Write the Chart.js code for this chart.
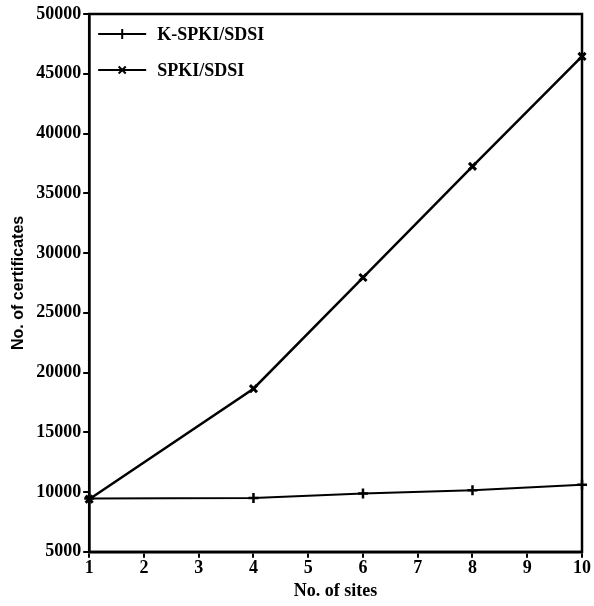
<!DOCTYPE html>
<html>
<head>
<meta charset="utf-8">
<script src="https://cdn.jsdelivr.net/npm/chart.js@4"></script>
<style>
  html, body { margin: 0; padding: 0; background: #fff; }
  #wrap { width: 594px; height: 606px; }
</style>
</head>
<body>
<div id="wrap"><canvas id="chart" width="594" height="606"></canvas></div>
<script>
const sites = [1, 4, 6, 8, 10];
const kSpki = [9450, 9500, 9870, 10150, 10620];
const spki = [9400, 18650, 27950, 37250, 46450];
const seriesNames = ['K-SPKI/SDSI', 'SPKI/SDSI'];
const serif = '"Liberation Serif", "Times New Roman", serif';
const sans = '"Liberation Sans", Arial, sans-serif';

// caixa em volta da area e legenda dentro do grafico
const boxAndLegend = {
    id: 'boxAndLegend',
    afterDraw(chart) {
        const ctx = chart.ctx;
        const a = chart.chartArea;
        ctx.save();
        ctx.strokeStyle = '#000';
        ctx.lineWidth = 2.5;
        ctx.strokeRect(a.left, a.top, a.right - a.left, a.bottom - a.top);

        const styles = ['cross', 'crossRot'];
        ctx.font = 'bold 18px ' + serif;
        ctx.textBaseline = 'middle';
        ctx.fillStyle = '#000';
        for (let i = 0; i < 2; i++) {
            const y = a.top + 20 + i * 36;
            const x0 = a.left + 9;
            ctx.lineWidth = 2;
            ctx.beginPath();
            ctx.moveTo(x0, y);
            ctx.lineTo(x0 + 48, y);
            ctx.stroke();
            Chart.helpers.drawPoint(ctx, { pointStyle: styles[i], radius: 5, borderWidth: 2.5 }, x0 + 24, y);
            ctx.fillText(seriesNames[i], x0 + 59, y + 1);
        }
        ctx.restore();
    }
};

new Chart(document.getElementById('chart').getContext('2d'), {
    type: 'line',
    data: {
        datasets: [
            {
                label: seriesNames[0],
                data: sites.map((s, i) => ({ x: s, y: kSpki[i] })),
                borderColor: '#000',
                backgroundColor: '#000',
                borderWidth: 2,
                pointStyle: 'cross',
                pointRadius: 5,
                pointBorderWidth: 2.5,
                tension: 0
            },
            {
                label: seriesNames[1],
                data: sites.map((s, i) => ({ x: s, y: spki[i] })),
                borderColor: '#000',
                backgroundColor: '#000',
                borderWidth: 2.5,
                pointStyle: 'crossRot',
                pointRadius: 5,
                pointBorderWidth: 3,
                tension: 0
            }
        ]
    },
    options: {
        responsive: false,
        animation: false,
        clip: false,
        layout: { padding: { top: 14, right: 12, left: 5, bottom: 4 } },
        plugins: {
            legend: { display: false },
            tooltip: { enabled: false }
        },
        scales: {
            x: {
                type: 'linear',
                min: 1,
                max: 10,
                ticks: { stepSize: 1, color: '#000', font: { family: serif, size: 18, weight: 'bold' }, padding: 0 },
                grid: { drawOnChartArea: false, color: '#000', lineWidth: 2, tickLength: 6 },
                border: { color: '#000', width: 2.5 },
                title: { display: true, text: 'No. of sites', color: '#000', font: { family: serif, size: 18, weight: 'bold' }, padding: { top: 1, bottom: 0 } }
            },
            y: {
                min: 5000,
                max: 50000,
                ticks: { stepSize: 5000, color: '#000', font: { family: serif, size: 18, weight: 'bold' }, padding: 2, callback: v => String(v) },
                grid: { drawOnChartArea: false, color: '#000', lineWidth: 2, tickLength: 6 },
                border: { color: '#000', width: 2.5 },
                title: { display: true, text: 'No. of certificates', color: '#000', font: { family: sans, size: 16, weight: 'bold' }, padding: { bottom: 6 } }
            }
        }
    },
    plugins: [boxAndLegend]
});
</script>
</body>
</html>
